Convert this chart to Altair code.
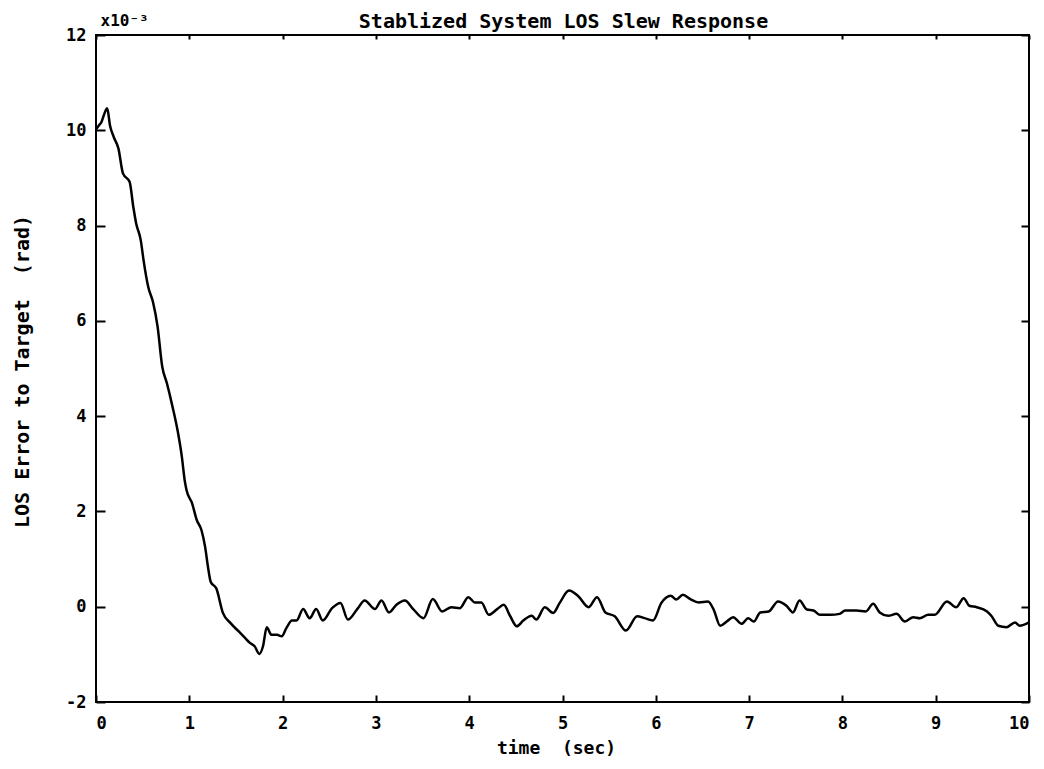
import altair as alt
import pandas as pd

# time (sec)
time_s = [0.00, 0.03, 0.06, 0.09, 0.12, 0.15, 0.19, 0.24, 0.29, 0.36, 0.40, 0.43,
          0.48, 0.51, 0.56, 0.61, 0.66, 0.71, 0.76, 0.82, 0.88, 0.92, 0.95, 0.97,
          1.03, 1.08, 1.13, 1.17, 1.20, 1.23, 1.29, 1.36, 1.44, 1.53, 1.60, 1.65,
          1.70, 1.75, 1.79, 1.83, 1.88, 1.94, 1.99, 2.04, 2.10, 2.15, 2.22, 2.29,
          2.36, 2.43, 2.53, 2.62, 2.70, 2.80, 2.88, 2.99, 3.06, 3.14, 3.22, 3.31,
          3.40, 3.51, 3.61, 3.71, 3.81, 3.90, 3.99, 4.06, 4.13, 4.21, 4.30, 4.37,
          4.44, 4.51, 4.58, 4.67, 4.72, 4.81, 4.90, 4.97, 5.07, 5.17, 5.28, 5.37,
          5.46, 5.56, 5.68, 5.80, 5.88, 5.97, 6.06, 6.16, 6.22, 6.29, 6.37, 6.46,
          6.56, 6.62, 6.69, 6.76, 6.83, 6.92, 6.99, 7.05, 7.12, 7.21, 7.31, 7.40,
          7.47, 7.54, 7.62, 7.69, 7.76, 7.87, 7.97, 8.03, 8.15, 8.25, 8.33, 8.40,
          8.49, 8.58, 8.67, 8.76, 8.83, 8.92, 8.99, 9.12, 9.22, 9.30, 9.36, 9.44,
          9.55, 9.60, 9.67, 9.76, 9.85, 9.90, 10.00]

# LOS error (x10^-3 rad)
los_error = [10.02, 10.10, 10.18, 10.35, 10.46, 10.10, 9.86, 9.62, 9.09, 8.92, 8.39, 8.05,
             7.69, 7.27, 6.71, 6.40, 5.88, 5.04, 4.69, 4.20, 3.64, 3.15, 2.66, 2.45,
             2.17, 1.82, 1.61, 1.25, 0.84, 0.52, 0.38, -0.13, -0.34, -0.52, -0.66, -0.76,
             -0.83, -0.99, -0.83, -0.43, -0.59, -0.59, -0.62, -0.45, -0.29, -0.29, -0.05, -0.24,
             -0.05, -0.29, -0.03, 0.08, -0.27, -0.05, 0.13, -0.05, 0.13, -0.12, 0.04, 0.13,
             -0.05, -0.24, 0.16, -0.10, -0.01, -0.03, 0.20, 0.09, 0.09, -0.17, -0.05, 0.04,
             -0.20, -0.41, -0.29, -0.19, -0.27, -0.01, -0.13, 0.08, 0.34, 0.22, -0.01, 0.20,
             -0.12, -0.20, -0.50, -0.20, -0.24, -0.29, 0.08, 0.23, 0.15, 0.25, 0.16, 0.09,
             0.11, -0.06, -0.40, -0.31, -0.22, -0.36, -0.24, -0.31, -0.12, -0.10, 0.11, 0.02,
             -0.12, 0.13, -0.06, -0.08, -0.17, -0.17, -0.15, -0.08, -0.08, -0.10, 0.06, -0.12,
             -0.19, -0.15, -0.31, -0.22, -0.24, -0.17, -0.17, 0.11, -0.01, 0.18, 0.02, -0.01,
             -0.10, -0.20, -0.40, -0.43, -0.33, -0.40, -0.33]

x_ticks = [0, 1, 2, 3, 4, 5, 6, 7, 8, 9, 10]
y_ticks = [-2, 0, 2, 4, 6, 8, 10, 12]

title_text = "Stablized System LOS Slew Response"
x_title = "time\u00a0 (sec)"
y_title = "LOS Error to Target\u00a0 (rad)"
exp_text = "x10\u207b\u00b3"

df = pd.DataFrame({"t": time_s, "v": los_error})

FONT = "DejaVu Sans Mono"

x_scale = alt.Scale(domain=[0, 10], nice=False, zero=False)
y_scale = alt.Scale(domain=[-2, 12], nice=False, zero=False)

common = dict(grid=False, domain=False, tickColor="black", tickWidth=2,
              labelFont=FONT, labelFontWeight="bold", labelColor="black",
              titleFont=FONT, titleFontWeight="bold", titleColor="black")

main = alt.Chart(df).mark_line(color="black", strokeWidth=2.5, interpolate="monotone").encode(
    x=alt.X("t:Q", scale=x_scale, axis=alt.Axis(
        orient="bottom", values=x_ticks, offset=-7, tickSize=7,
        labelPadding=13, labelFontSize=17, labelExpr="'' + datum.value",
        title=x_title, titleFontSize=18, titleX=460, titleY=58,
        titleAlign="center", titleBaseline="alphabetic", **common)),
    y=alt.Y("v:Q", scale=y_scale, axis=alt.Axis(
        orient="left", values=y_ticks, offset=-9, tickSize=9,
        labelPadding=10, labelFontSize=17, labelExpr="'' + datum.value",
        title=y_title, titleFontSize=20, titleAngle=270, titleX=-77, titleY=336,
        titleAlign="center", titleBaseline="alphabetic", **common)),
)

frame = alt.Chart(df).mark_line(opacity=0).encode(
    x=alt.X("t:Q", scale=x_scale, axis=alt.Axis(
        orient="top", values=x_ticks, offset=-4, tickSize=4, labels=False,
        title=title_text, titleFontSize=20, titleX=467, titleY=-12,
        titleAlign="center", titleBaseline="alphabetic", **common)),
    y=alt.Y("v:Q", scale=y_scale, axis=alt.Axis(
        orient="right", values=y_ticks, offset=-8, tickSize=8, labels=False,
        title=exp_text, titleFontSize=16, titleAngle=0, titleX=-921, titleY=-10,
        titleAlign="left", titleBaseline="alphabetic", **common)),
)

chart = alt.layer(main, frame).resolve_axis(
    x="independent", y="independent"
).properties(
    width=933, height=667,
    autosize=alt.AutoSizeParams(type="none"),
    padding={"left": 88, "top": 27, "right": 5, "bottom": 54},
    background="white",
).configure_view(stroke="black", strokeWidth=2)

chart.save("out.html", embed_options={"renderer": "svg", "actions": False})
